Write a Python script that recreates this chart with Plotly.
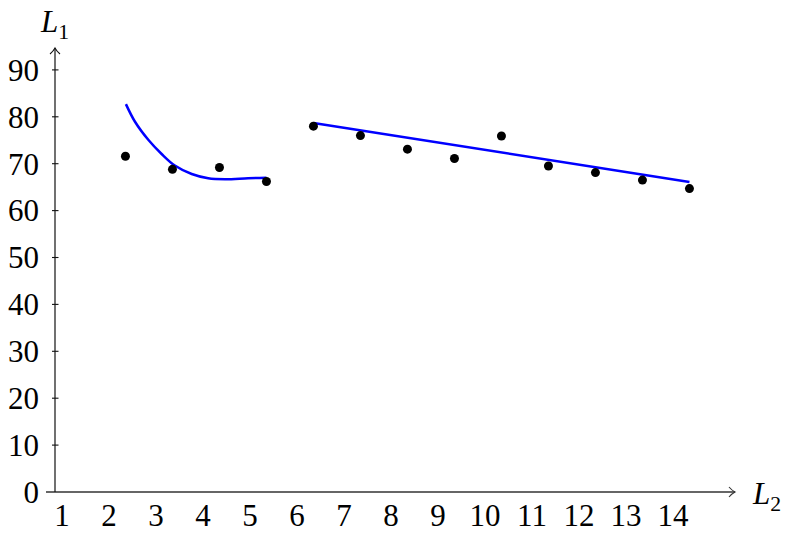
import plotly.graph_objects as go

# ---- data ----
point_x = [2.35, 3.35, 4.35, 5.35, 6.35, 7.35, 8.35, 9.35, 10.35, 11.35, 12.35, 13.35, 14.35]
point_y = [71.6, 68.8, 69.2, 66.2, 78.0, 76.0, 73.1, 71.1, 75.9, 69.5, 68.1, 66.5, 64.7]

curve_x = [2.36, 2.55, 2.84, 3.12, 3.40, 3.76, 4.11, 4.47, 4.96, 5.35]
curve_y = [82.7, 79.0, 75.05, 72.07, 69.6, 67.8, 66.9, 66.7, 66.9, 67.0]

line_x = [6.35, 14.35]
line_y = [78.7, 66.1]

x_ticks = list(range(1, 15))
y_ticks = list(range(0, 100, 10))

FONT = "Liberation Serif"
FS = 31

W, H = 800, 541
L, R, T, B = 55, 65, 48, 49
PW, PH = W - L - R, H - T - B


def pxp(x):
    return (x - L) / PW


def pyp(y):
    return (H - B - y) / PH


fig = go.Figure()
fig.add_trace(go.Scatter(x=curve_x, y=curve_y, mode="lines",
                         line=dict(color="#0000ff", width=2.5, shape="spline"),
                         hoverinfo="skip", showlegend=False))
fig.add_trace(go.Scatter(x=line_x, y=line_y, mode="lines",
                         line=dict(color="#0000ff", width=2.5),
                         hoverinfo="skip", showlegend=False))
fig.add_trace(go.Scatter(x=point_x, y=point_y, mode="markers",
                         marker=dict(color="black", size=9),
                         showlegend=False))

shapes = []
# x axis line (extends a bit left of the y axis)
shapes.append(dict(type="line", xref="paper", yref="paper",
                   x0=pxp(46), x1=pxp(735), y0=0, y1=0,
                   line=dict(color="#333333", width=1.5)))
# y axis line
shapes.append(dict(type="line", xref="paper", yref="paper",
                   x0=0, x1=0, y0=0, y1=1,
                   line=dict(color="#111111", width=1.2)))
# arrow heads
shapes.append(dict(type="path", xref="paper", yref="paper",
                   path=f"M {pxp(50)} {pyp(54)} Q {pxp(53.5)} {pyp(51)} {pxp(55)} {pyp(48)} "
                        f"Q {pxp(56.5)} {pyp(51)} {pxp(60)} {pyp(54)}",
                   line=dict(color="#111111", width=1.1)))
shapes.append(dict(type="path", xref="paper", yref="paper",
                   path=f"M {pxp(729)} {pyp(487)} Q {pxp(732)} {pyp(490.5)} {pxp(735)} {pyp(492)} "
                        f"Q {pxp(732)} {pyp(493.5)} {pxp(729)} {pyp(497)}",
                   line=dict(color="#333333", width=1.1)))
# y tick marks crossing the axis
for v in y_ticks[1:]:
    shapes.append(dict(type="line", xref="paper", yref="y",
                       x0=pxp(52), x1=pxp(58.5), y0=v, y1=v,
                       line=dict(color="#111111", width=1.1)))

annotations = [
    dict(text="<i>L</i><sub>1</sub>", xref="paper", yref="paper",
         x=pxp(54), y=pyp(24), xanchor="center", yanchor="middle", showarrow=False,
         font=dict(family=FONT, size=FS, color="black")),
    dict(text="<i>L</i><sub>2</sub>", xref="paper", yref="paper",
         x=pxp(766), y=pyp(496), xanchor="center", yanchor="middle", showarrow=False,
         font=dict(family=FONT, size=FS, color="black")),
]

fig.update_layout(
    width=W, height=H,
    margin=dict(l=L, r=R, t=T, b=B, pad=0, autoexpand=False),
    paper_bgcolor="white", plot_bgcolor="white",
    shapes=shapes, annotations=annotations,
    font=dict(family=FONT, size=FS, color="black"),
    xaxis=dict(range=[(L - 15) / 47, (L + PW - 15) / 47], tickvals=x_ticks,
               ticktext=[str(v) for v in x_ticks], ticks="", showgrid=False,
               zeroline=False, showline=False, ticklabelstandoff=2,
               automargin=False, tickfont=dict(family=FONT, size=FS)),
    yaxis=dict(range=[0, PH / 4.69], tickvals=y_ticks,
               ticktext=[str(v) for v in y_ticks], ticks="", showgrid=False,
               zeroline=False, showline=False, ticklabelstandoff=15,
               automargin=False, tickfont=dict(family=FONT, size=FS)),
)

fig.write_html(
    "out.html",
    config={"displayModeBar": False},
    post_script="document.body.style.margin='0px';document.body.style.overflow='hidden';",
)
